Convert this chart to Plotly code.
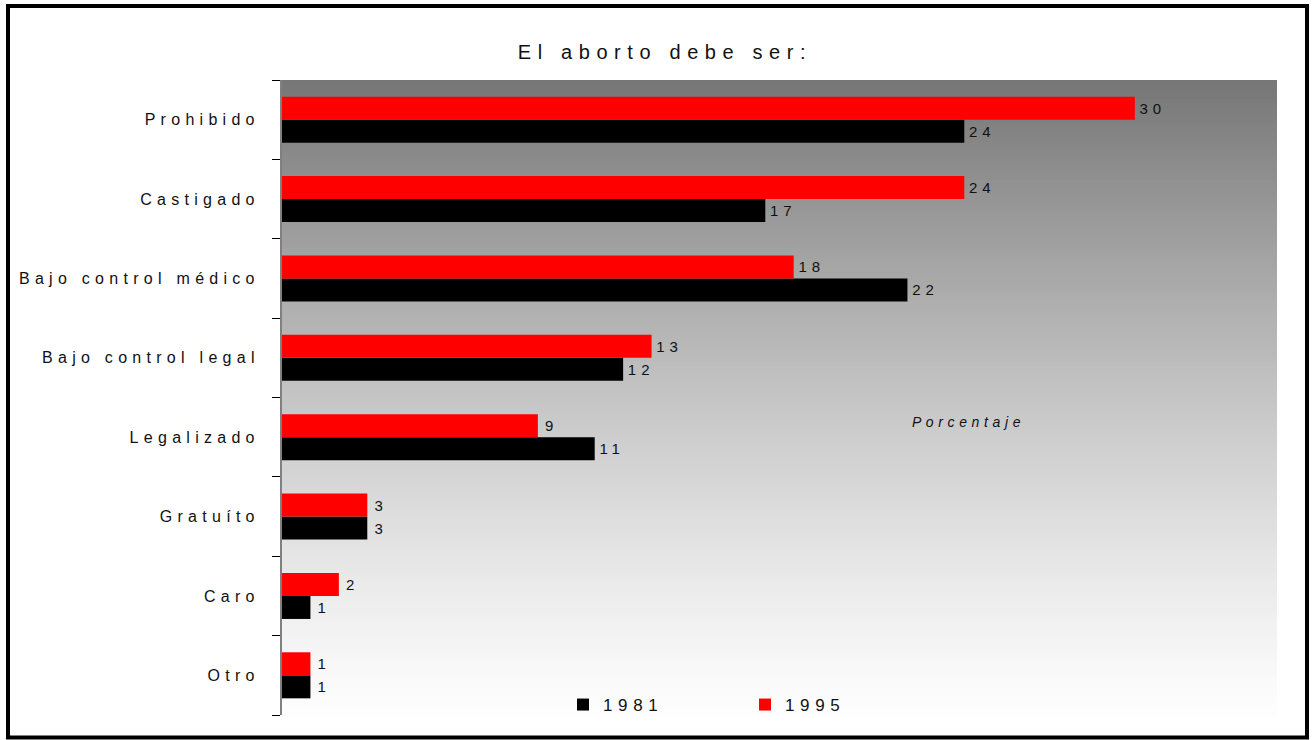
import plotly.graph_objects as go

categories = ["Prohibido", "Castigado", "Bajo control médico", "Bajo control legal",
              "Legalizado", "Gratuíto", "Caro", "Otro"]
values_1981 = [24, 17, 22, 12, 11, 3, 1, 1]
values_1995 = [30, 24, 18, 13, 9, 3, 2, 1]
series_names = ["1981", "1995"]
title_text = "El aborto debe ser:"
note_text = "Porcentaje"

FONT = "Liberation Sans, Arial, sans-serif"
TXT = "#111111"

fig = go.Figure()
fig.add_trace(go.Bar(
    y=categories, x=values_1981, name=series_names[0], orientation="h",
    marker=dict(color="#000000", line=dict(width=0)),
    texttemplate="\u00a0%{x}", textposition="outside", cliponaxis=False,
    textfont=dict(family=FONT, size=15, color=TXT), hoverinfo="skip",
))
fig.add_trace(go.Bar(
    y=categories, x=values_1995, name=series_names[1], orientation="h",
    marker=dict(color="#ff0000", line=dict(width=0)),
    texttemplate="\u00a0%{x}", textposition="outside", cliponaxis=False,
    textfont=dict(family=FONT, size=15, color=TXT), hoverinfo="skip",
))

# gradient background of plot area
shapes = []
N = 140
top, bot = 118, 253
for i in range(N):
    t = (i + 0.5) / N
    f = 1 - (1 - t) ** 1.25
    v = int(round(top + (bot - top) * f))
    shapes.append(dict(type="rect", xref="x domain", yref="y domain",
                       x0=0, x1=1, y0=1 - i / N, y1=1 - (i + 1) / N - 0.002,
                       fillcolor=f"rgb({v},{v},{v})", line=dict(width=0),
                       layer="below"))
# outer frame
shapes.append(dict(type="rect", xref="paper", yref="paper",
                   x0=(8 - 282) / 995, x1=(1307 - 282) / 995,
                   y0=(715 - 737.5) / 635, y1=(715 - 6) / 635,
                   line=dict(color="#000000", width=4), fillcolor="rgba(0,0,0,0)",
                   layer="above"))

fig.update_layout(
    width=1312, height=740,
    margin=dict(l=282, r=35, t=80, b=25),
    paper_bgcolor="#ffffff", plot_bgcolor="#ffffff",
    barmode="group", bargap=0.42, bargroupgap=0,
    font=dict(family=FONT, size=16, color=TXT),
    title=dict(text=title_text, x=665 / 1312, xref="container", xanchor="center",
               y=1 - 52 / 740, yref="container", yanchor="middle",
               font=dict(family=FONT, size=20, color=TXT)),
    xaxis=dict(range=[0, 35], visible=False, fixedrange=True),
    yaxis=dict(categoryorder="array", categoryarray=categories[::-1],
               range=[-0.5, len(categories) - 0.5],
               showline=True, linecolor="#808080", linewidth=2,
               ticks="outside", ticklen=8, tickcolor="#000000", tickwidth=1,
               tickson="boundaries", showgrid=False, zeroline=False,
               ticklabelstandoff=17,
               tickfont=dict(family=FONT, size=16, color=TXT)),
    legend=dict(orientation="h", x=(563 - 282) / 995, xanchor="left",
                y=(715 - 705) / 635, yanchor="middle",
                bgcolor="rgba(0,0,0,0)", font=dict(family=FONT, size=17, color=TXT),
                entrywidth=137, entrywidthmode="pixels", traceorder="normal"),
    showlegend=True,
    shapes=shapes,
    annotations=[dict(text=note_text, xref="paper", yref="paper",
                      x=(968 - 282) / 995, y=(715 - 422) / 635,
                      showarrow=False, xanchor="center", yanchor="middle",
                      font=dict(family=FONT, size=14, color=TXT, style="italic"))],
)

post = """
var s=document.createElement('style');
s.textContent='body{margin:0;overflow:hidden} .js-plotly-plot .main-svg text{letter-spacing:0.33em}';
document.head.appendChild(s);
document.body.style.margin='0';
"""
fig.write_html("out.html", post_script=post, config={"displayModeBar": False})
